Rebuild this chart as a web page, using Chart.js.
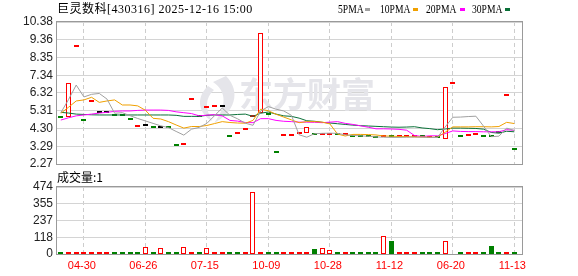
<!DOCTYPE html>
<html>
<head>
<meta charset="utf-8">
<script src="https://cdn.jsdelivr.net/npm/chart.js@4.4.1/dist/chart.umd.min.js"></script>
<style>
  body { margin: 0; background: #fff; }
  #wrap { position: relative; width: 578px; height: 276px; overflow: hidden;
          font-family: "Liberation Serif", "Noto Sans CJK SC", serif; font-size: 12px; color: #000; }
  #wrap canvas { position: absolute; left: 0; }
  .txt { position: absolute; white-space: pre; line-height: 14px; }
  .lg { position: absolute; top: 2px; line-height: 14px; white-space: pre; transform: scaleX(0.8); transform-origin: left center; }
  .sw { position: absolute; top: 8px; width: 5px; height: 3px; }
</style>
</head>
<body>
<div id="wrap">
  <canvas id="priceChart" width="578" height="176" style="top:0"></canvas>
  <canvas id="volChart" width="578" height="110" style="top:166px"></canvas>

  <div class="txt" style="left:57px;top:2px;letter-spacing:0.5px">巨灵数科[430316] 2025-12-16 15:00</div>

  <div class="lg" style="left:338px">5PMA</div>
  <div class="sw" style="left:365px;background:#a0a0a0"></div>
  <div class="lg" style="left:380px">10PMA</div>
  <div class="sw" style="left:413px;background:#f0a000"></div>
  <div class="lg" style="left:426px">20PMA</div>
  <div class="sw" style="left:460px;background:#ff00ff"></div>
  <div class="lg" style="left:472px">30PMA</div>
  <div class="sw" style="left:505px;background:#0a7038"></div>

  <div class="txt" style="left:57px;top:170px;font-family:'Noto Sans CJK SC','Liberation Serif'">成交量:1</div>
</div>

<script>
// x axis labels and the bar index they sit on
const dateLabels = ['04-30', '06-26', '07-15', '10-09', '10-28', '11-12', '06-20', '11-13'];
const dateAt = [3, 11, 19, 27, 35, 43, 51, 59];

const priceTicks = ['2.27', '3.29', '4.30', '5.31', '6.32', '7.34', '8.35', '9.36', '10.38'];
const volTicks = ['0', '118', '237', '355', '474'];

const openPx = [4.91, 4.97, 8.93, 4.73, 5.79, 5.17, 5.17, 5.01, 5.01, 4.78,
                4.40, 4.44, 4.31, 4.31, 4.31, 3.30, 3.34, 5.92, 4.95, 5.45,
                5.51, 5.51, 3.79, 3.97, 4.21, 4.94, 5.18, 5.07, 2.88, 3.87,
                3.89, 3.97, 4.03, 3.95, 3.95, 3.95, 3.93, 3.90, 3.83, 3.82,
                3.80, 3.75, 3.82, 3.80, 3.82, 3.84, 3.84, 3.80, 3.74, 3.75,
                3.68, 6.82, 3.80, 3.86, 3.91, 3.79, 3.79, 4.02, 6.14, 3.05];
const closePx = [4.91, 6.88, 8.93, 4.73, 5.79, 5.17, 5.17, 5.01, 5.01, 4.78,
                 4.40, 4.44, 4.31, 4.31, 4.31, 3.30, 3.34, 5.92, 4.95, 5.45,
                 5.51, 5.51, 3.79, 3.97, 4.21, 4.94, 9.73, 5.07, 2.88, 3.87,
                 3.89, 3.97, 4.37, 3.95, 3.95, 3.95, 3.93, 3.90, 3.83, 3.82,
                 3.80, 3.75, 3.82, 3.80, 3.82, 3.84, 3.84, 3.80, 3.74, 3.75,
                 6.65, 6.82, 3.80, 3.86, 3.91, 3.79, 3.79, 4.02, 6.14, 3.05];
// 1 = up, -1 = down, 0 = unchanged
const dayTrend = [-1, 1, 1, -1, 1, 0, 0, -1, -1, -1,
                  1, 0, -1, 0, -1, -1, 1, 1, -1, 1,
                  1, 0, -1, 1, 1, 1, 1, -1, -1, 1,
                  1, 1, 1, -1, 1, 1, -1, 1, -1, -1,
                  -1, -1, 1, -1, 1, 1, 1, -1, 1, -1,
                  1, 1, -1, 1, 1, -1, -1, -1, 1, -1];

const volume = [5, 5, 5, 5, 5, 5, 5, 5, 5, 5,
                5, 47, 5, 42, 5, 5, 49, 5, 5, 44,
                5, 12, 5, 5, 12, 440, 12, 5, 5, 5,
                5, 5, 10, 37, 44, 27, 8, 8, 5, 5,
                5, 5, 128, 94, 5, 14, 10, 5, 5, 5,
                94, 0, 5, 5, 14, 5, 58, 10, 5, 5];
const volTrend = [-1, 1, 1, 1, 1, 1, 1, -1, -1, -1,
                  -1, 1, -1, 1, -1, -1, 1, 1, -1, 1,
                  1, 1, -1, -1, 1, 1, 1, -1, -1, 1,
                  1, 1, 1, -1, 1, 1, -1, 1, -1, -1,
                  -1, -1, 1, -1, 1, 1, 1, -1, -1, -1,
                  1, 1, -1, 1, 1, -1, -1, -1, 1, -1];

const ma5 = [5.20, 5.95, 6.78, 6.10, 6.25, 6.30, 5.98, 5.17, 5.20, 5.03,
             4.87, 4.73, 4.59, 4.45, 4.35, 4.13, 3.92, 4.26, 4.36, 4.59,
             5.03, 5.47, 5.05, 4.85, 4.60, 4.48, 5.30, 5.55, 5.40, 5.30,
             5.05, 3.94, 3.80, 4.00, 4.02, 4.03, 4.02, 3.94, 3.90, 3.88,
             3.85, 3.82, 3.80, 3.79, 3.79, 3.80, 3.81, 3.80, 3.79, 3.78,
             4.38, 4.94, 4.95, 4.98, 5.00, 4.43, 3.83, 3.86, 4.32, 4.18];
const ma10 = [5.17, 5.51, 5.87, 5.93, 6.08, 5.79, 5.87, 5.93, 5.64, 5.64,
              5.59, 5.34, 4.88, 4.84, 4.69, 4.50, 4.32, 4.41, 4.41, 4.47,
              4.58, 4.69, 4.64, 4.61, 4.60, 4.76, 5.40, 5.31, 5.11, 4.95,
              4.79, 4.63, 4.69, 4.69, 4.66, 4.56, 3.98, 3.87, 3.96, 3.96,
              3.95, 3.93, 3.87, 3.86, 3.84, 3.83, 3.82, 3.81, 3.80, 3.80,
              4.08, 4.39, 4.39, 4.39, 4.40, 4.40, 4.39, 4.41, 4.65, 4.58];
const ma20 = [4.78, 4.91, 5.02, 5.07, 5.12, 5.18, 5.22, 5.28, 5.30, 5.30,
              5.33, 5.35, 5.35, 5.35, 5.33, 5.25, 5.20, 5.15, 5.02, 5.06,
              5.09, 5.02, 4.76, 4.72, 4.64, 4.63, 4.86, 4.86, 4.76, 4.71,
              4.69, 4.66, 4.66, 4.65, 4.63, 4.66, 4.69, 4.59, 4.53, 4.45,
              4.37, 4.28, 4.28, 4.27, 4.25, 4.20, 3.90, 3.84, 3.88, 3.88,
              4.01, 4.16, 4.13, 4.12, 4.12, 4.11, 4.11, 4.11, 4.23, 4.19];
const ma30 = [5.22, 5.18, 5.12, 5.10, 5.08, 5.07, 5.07, 5.07, 5.07, 5.07,
              5.07, 5.07, 5.07, 5.07, 5.07, 5.05, 4.99, 4.99, 4.99, 5.05,
              5.07, 5.07, 5.07, 5.10, 5.12, 4.99, 5.17, 5.24, 5.12, 5.02,
              4.99, 4.89, 4.74, 4.71, 4.65, 4.61, 4.57, 4.53, 4.49, 4.46,
              4.44, 4.42, 4.40, 4.38, 4.37, 4.38, 4.40, 4.33, 4.29, 4.23,
              4.27, 4.32, 4.32, 4.31, 4.30, 4.26, 4.07, 4.03, 4.14, 4.11];

const RED = '#ff0000', GREEN = '#008000', BLACK = '#000000';
const trendColor = t => t > 0 ? RED : (t < 0 ? GREEN : BLACK);

// gray frame around each plot area
const framePlugin = {
    id: 'frame',
    afterDraw(chart) {
        const a = chart.chartArea, c = chart.ctx;
        c.save();
        c.strokeStyle = '#9a9a9a';
        c.lineWidth = 1;
        c.strokeRect(a.left - 0.5, a.top - 0.5, a.right - a.left + 1, a.bottom - a.top + 1);
        c.restore();
    }
};

// snap bar edges to whole pixels so the flat days stay thin 2px dashes
const snapPlugin = {
    id: 'snap',
    afterDatasetsUpdate(chart) {
        chart.data.datasets.forEach((ds, di) => {
            const meta = chart.getDatasetMeta(di);
            if (meta.type !== 'bar') return;
            meta.data.forEach(el => {
                if (!isFinite(el.y) || !isFinite(el.base)) return;
                el.x = Math.floor(el.x) + 0.5;
                const top = Math.round(Math.min(el.y, el.base));
                let bottom = Math.round(Math.max(el.y, el.base));
                if (bottom - top < 2) bottom = top + 2;
                el.y = top;
                el.base = bottom;
            });
        });
    }
};

// faint site watermark behind the candles
const watermarkPlugin = {
    id: 'watermark',
    beforeDatasetsDraw(chart) {
        const c = chart.ctx;
        c.save();
        c.fillStyle = '#e5e5ea';
        c.beginPath();
        c.moveTo(226, 76);
        c.bezierCurveTo(242, 92, 234, 113, 214, 123);
        c.bezierCurveTo(226, 108, 228, 92, 213, 82);
        c.closePath();
        c.fill();
        c.beginPath();
        c.moveTo(208, 86);
        c.bezierCurveTo(195, 98, 199, 114, 212, 121);
        c.bezierCurveTo(205, 108, 205, 98, 214, 90);
        c.closePath();
        c.fill();
        c.font = 'bold 34px "Noto Sans CJK SC"';
        c.textBaseline = 'middle';
        c.fillText('东方财富', 239, 94);
        c.restore();
    }
};

function evenTicks(labels) {
    return function(scale) {
        const n = labels.length;
        scale.ticks = labels.map((t, i) => ({ value: scale.min + (scale.max - scale.min) * i / (n - 1) }));
    };
}

function xAxis(showLabels) {
    return {
        type: 'linear',
        min: -0.5,
        max: 60,
        offset: false,
        afterBuildTicks: scale => { scale.ticks = dateAt.map(v => ({ value: v })); },
        afterFit: scale => { scale.height = showLabels ? 22 : 0; },
        grid: { color: '#cdcdcd', drawTicks: false, offset: false },
        border: { display: false, dash: [4, 3] },
        ticks: {
            display: showLabels,
            autoSkip: false,
            maxRotation: 0,
            padding: 5,
            labelOffset: -2,
            color: RED,
            font: { family: 'Liberation Sans', size: 11 },
            callback: (v, i) => dateLabels[i]
        }
    };
}

function yAxis(labels) {
    return {
        min: parseFloat(labels[0]),
        max: parseFloat(labels[labels.length - 1]),
        afterBuildTicks: evenTicks(labels),
        afterFit: scale => { scale.width = 57; },
        grid: { color: '#d4d4d4', drawTicks: false },
        border: { display: false },
        ticks: {
            autoSkip: false,
            padding: 4,
            color: '#222',
            font: { family: 'Liberation Sans', size: 12 },
            callback: (v, i) => labels[i]
        }
    };
}

function maLine(values, color) {
    return {
        type: 'line',
        data: values.map((v, i) => ({ x: i, y: v })),
        borderColor: color,
        borderWidth: 1,
        pointRadius: 0,
        tension: 0,
        fill: false,
        order: 1
    };
}

const isHollow = i => closePx[i] > openPx[i];

new Chart(document.getElementById('priceChart'), {
    type: 'bar',
    data: {
        datasets: [
            {
                data: openPx.map((o, i) => ({ x: i, y: [o, closePx[i]] })),
                backgroundColor: openPx.map((o, i) => isHollow(i) ? '#ffffff' : trendColor(dayTrend[i])),
                borderColor: openPx.map((o, i) => isHollow(i) ? RED : trendColor(dayTrend[i])),
                borderWidth: openPx.map((o, i) => isHollow(i) ? 1 : 0),
                borderSkipped: false,
                inflateAmount: 0,
                barThickness: 5,
                minBarLength: 2,
                grouped: false,
                order: 5
            },
            maLine(ma5, '#a0a0a0'),
            maLine(ma10, '#f0a000'),
            maLine(ma20, '#ff00ff'),
            maLine(ma30, '#0a7038')
        ]
    },
    options: {
        responsive: false,
        animation: false,
        devicePixelRatio: 1,
        layout: { padding: { left: 0, right: 56, top: 22, bottom: 12 } },
        scales: {
            x: xAxis(false),
            y: yAxis(priceTicks)
        },
        plugins: { legend: { display: false }, tooltip: { enabled: false } }
    },
    plugins: [snapPlugin, watermarkPlugin, framePlugin]
});

new Chart(document.getElementById('volChart'), {
    type: 'bar',
    data: {
        datasets: [{
            data: volume.map((v, i) => ({ x: i, y: v > 0 ? v : null })),
            backgroundColor: volTrend.map(t => t > 0 ? '#ffffff' : GREEN),
            borderColor: volTrend.map(t => t > 0 ? RED : GREEN),
            borderWidth: volTrend.map(t => t > 0 ? 1 : 0),
            borderSkipped: false,
            inflateAmount: 0,
            barThickness: 5,
            minBarLength: 2,
            grouped: false
        }]
    },
    options: {
        responsive: false,
        animation: false,
        devicePixelRatio: 1,
        layout: { padding: { left: 0, right: 56, top: 21, bottom: 0 } },
        scales: {
            x: xAxis(true),
            y: yAxis(volTicks)
        },
        plugins: { legend: { display: false }, tooltip: { enabled: false } }
    },
    plugins: [snapPlugin, framePlugin]
});
</script>
</body>
</html>
